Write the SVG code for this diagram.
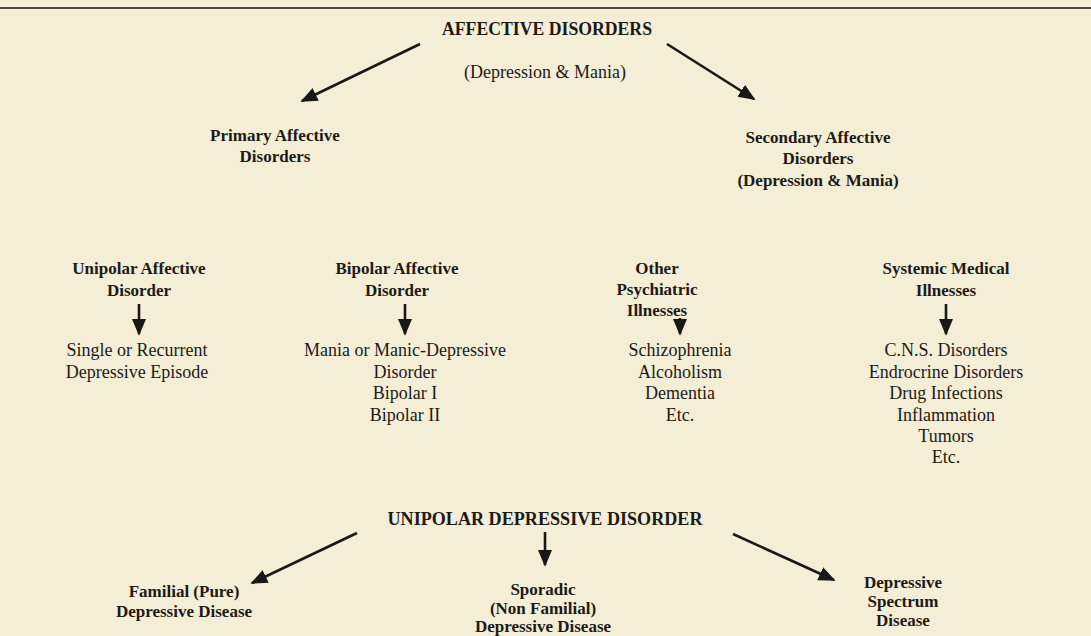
<svg xmlns="http://www.w3.org/2000/svg" width="1091" height="636" viewBox="0 0 1091 636">
<defs>
<marker id="ahb" viewBox="0 0 10 10" refX="9" refY="5" markerWidth="6.5" markerHeight="6.5" orient="auto">
<path d="M0,0.8 L10,5 L0,9.2 z" fill="#1a1815"/>
</marker>
</defs>
<style>
.t{font-family:"Liberation Serif","Times New Roman",serif;fill:#1d1a16;text-anchor:middle}
.b{font-weight:bold;font-size:17px}
.r{font-size:18px}
.h{font-weight:bold;font-size:18px}
.ln{stroke:#1a1815;stroke-width:2.6;fill:none;marker-end:url(#ahb)}
</style>
<rect width="1091" height="636" fill="#f4eed6"/>
<line x1="0" y1="8" x2="1091" y2="8" stroke="#4a4844" stroke-width="2"/>
<g id="connectors">
<line class="ln" x1="420" y1="44" x2="302" y2="101"/>
<line class="ln" x1="667" y1="44" x2="754" y2="99"/>
<line class="ln" x1="139" y1="304" x2="139" y2="334"/>
<line class="ln" x1="405" y1="304" x2="405" y2="334"/>
<line class="ln" x1="680" y1="318" x2="680" y2="334"/>
<line class="ln" x1="946" y1="304" x2="946" y2="334"/>
<line class="ln" x1="357" y1="533" x2="252" y2="583"/>
<line class="ln" x1="545" y1="532" x2="545" y2="565"/>
<line class="ln" x1="733" y1="534" x2="834" y2="580"/>
</g>
<g id="n-affective">
<text class="t h" x="547" y="35" textLength="210" lengthAdjust="spacingAndGlyphs">AFFECTIVE  DISORDERS</text>
<text class="t r" x="545" y="78">(Depression &amp; Mania)</text>
</g>
<g id="n-primary">
<text class="t b" x="275" y="141">Primary Affective</text>
<text class="t b" x="275" y="162">Disorders</text>
</g>
<g id="n-secondary">
<text class="t b" x="818" y="143">Secondary Affective</text>
<text class="t b" x="818" y="164">Disorders</text>
<text class="t b" x="818" y="186">(Depression &amp; Mania)</text>
</g>
<g id="n-unipolar">
<text class="t b" x="139" y="274">Unipolar Affective</text>
<text class="t b" x="139" y="296">Disorder</text>
</g>
<g id="n-bipolar">
<text class="t b" x="397" y="274">Bipolar Affective</text>
<text class="t b" x="397" y="296">Disorder</text>
</g>
<g id="n-other">
<text class="t b" x="657" y="274">Other</text>
<text class="t b" x="657" y="295">Psychiatric</text>
<text class="t b" x="657" y="316">Illnesses</text>
</g>
<g id="n-systemic">
<text class="t b" x="946" y="274">Systemic Medical</text>
<text class="t b" x="946" y="296">Illnesses</text>
</g>
<g id="n-single">
<text class="t r" x="137" y="356">Single or Recurrent</text>
<text class="t r" x="137" y="378">Depressive Episode</text>
</g>
<g id="n-mania">
<text class="t r" x="405" y="356">Mania or Manic-Depressive</text>
<text class="t r" x="405" y="378">Disorder</text>
<text class="t r" x="405" y="399">Bipolar I</text>
<text class="t r" x="405" y="421">Bipolar II</text>
</g>
<g id="n-schizo">
<text class="t r" x="680" y="356">Schizophrenia</text>
<text class="t r" x="680" y="378">Alcoholism</text>
<text class="t r" x="680" y="399">Dementia</text>
<text class="t r" x="680" y="421">Etc.</text>
</g>
<g id="n-cns">
<text class="t r" x="946" y="356">C.N.S. Disorders</text>
<text class="t r" x="946" y="378">Endrocrine Disorders</text>
<text class="t r" x="946" y="399">Drug Infections</text>
<text class="t r" x="946" y="421">Inflammation</text>
<text class="t r" x="946" y="442">Tumors</text>
<text class="t r" x="946" y="463">Etc.</text>
</g>
<g id="n-udd">
<text class="t h" x="545" y="525" textLength="315" lengthAdjust="spacingAndGlyphs">UNIPOLAR  DEPRESSIVE  DISORDER</text>
</g>
<g id="n-familial">
<text class="t b" x="184" y="597">Familial (Pure)</text>
<text class="t b" x="184" y="617">Depressive Disease</text>
</g>
<g id="n-sporadic">
<text class="t b" x="543" y="595">Sporadic</text>
<text class="t b" x="543" y="614">(Non Familial)</text>
<text class="t b" x="543" y="632">Depressive Disease</text>
</g>
<g id="n-spectrum">
<text class="t b" x="903" y="588">Depressive</text>
<text class="t b" x="903" y="607">Spectrum</text>
<text class="t b" x="903" y="626">Disease</text>
</g>
</svg>
